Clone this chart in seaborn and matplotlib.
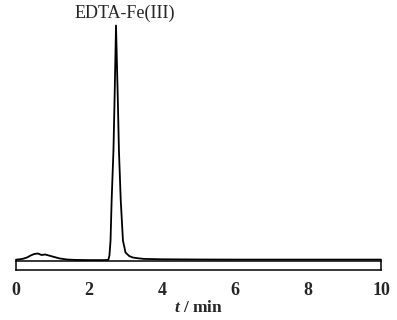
import matplotlib
matplotlib.use('Agg')
import matplotlib.pyplot as plt
import seaborn as sns
import pandas as pd
from matplotlib.ticker import MultipleLocator

# chromatogram trace (time in min, signal in arbitrary units)
time_min = [0.00, 0.10, 0.20, 0.30, 0.40, 0.50, 0.60, 0.70, 0.80, 0.90,
            1.00, 1.10, 1.20, 1.30, 1.40, 1.60, 2.00, 2.40, 2.53, 2.56,
            2.59, 2.62, 2.67, 2.70, 2.74, 2.79, 2.82, 2.87, 2.93, 3.00,
            3.10, 3.20, 3.35, 3.50, 4.00, 5.00, 6.00, 8.00, 10.00]
signal = [0.8, 1.2, 1.8, 3.0, 5.0, 6.5, 7.0, 5.5, 6.0, 5.0,
          4.0, 3.0, 2.0, 1.5, 1.0, 0.6, 0.4, 0.4, 0.6, 5.0,
          20.0, 60.0, 110.0, 160.0, 235.0, 160.0, 110.0, 60.0, 20.0, 8.0,
          4.5, 3.0, 2.2, 1.6, 1.2, 1.0, 0.9, 0.9, 0.9]
peak_label = 'EDTA-Fe(III)'
x_ticks = [0, 2, 4, 6, 8, 10]

df = pd.DataFrame({'t': time_min, 'signal': signal})

sns.set_style('white')
plt.rcParams['font.family'] = ['Liberation Serif', 'DejaVu Serif']
plt.rcParams['mathtext.fontset'] = 'custom'
plt.rcParams['mathtext.it'] = 'Liberation Serif:italic:bold'
plt.rcParams['mathtext.rm'] = 'Liberation Serif:bold'

fig = plt.figure(figsize=(3.97, 3.2), dpi=100)
W, H = 397, 320
x0, x1 = 16, 381

# trace axes (no frame)
ax = fig.add_axes([x0 / W, (H - 260.5) / H, (x1 - x0) / W, 240 / H])
sns.lineplot(data=df, x='t', y='signal', ax=ax, color='black', linewidth=1.3)
ax.set_xlim(0, 10)
ax.set_ylim(0, 240)
ax.axis('off')
for line in ax.lines:
    line.set_clip_on(False)
i_peak = signal.index(max(signal))
ax.annotate(peak_label, xy=(time_min[i_peak], signal[i_peak]),
            xytext=(6, 8.5), textcoords='offset points',
            ha='center', va='center', fontsize=13)

# thin boxed time axis below
bx = fig.add_axes([x0 / W, (H - 270) / H, (x1 - x0) / W, 9.5 / H])
bx.set_xlim(0, 10)
bx.set_yticks([])
bx.set_xticks(x_ticks)
bx.xaxis.set_minor_locator(MultipleLocator(0.5))
bx.tick_params(axis='x', which='major', direction='in', length=6.8, width=1.0,
               pad=8.5, labelsize=13)
bx.tick_params(axis='x', which='minor', direction='in', length=3.4, width=1.0)
for lab in bx.get_xticklabels():
    lab.set_fontweight('bold')
for s in bx.spines.values():
    s.set_visible(True)
    s.set_linewidth(1.1)
    s.set_color('black')
bx.set_xlabel(r'$t$ / min', fontsize=12.5, fontweight='bold', labelpad=1)

fig.savefig('out.png', dpi=100)
